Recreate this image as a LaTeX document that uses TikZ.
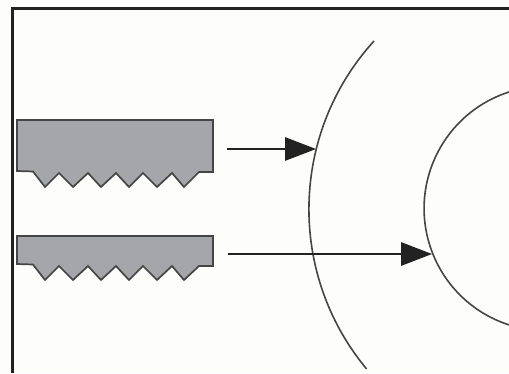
\documentclass[tikz,border=0pt]{standalone}
\usetikzlibrary{arrows.meta}
\definecolor{bgc}{HTML}{FDFDFC}
\definecolor{toothfill}{HTML}{A5A6A9}
\definecolor{inkline}{HTML}{454545}
\definecolor{arrowink}{HTML}{222222}
\tikzset{
  tooth/.style={draw=inkline,fill=toothfill,line width=1.7pt,line join=miter},
  frameline/.style={draw=arrowink,line width=2.3pt,line join=miter},
  arcline/.style={draw=inkline,line width=1.6pt},
  ray/.style={draw=arrowink,line width=1.4pt,-{Triangle[length=31pt,width=23.5pt]}}
}
\begin{document}
\begin{tikzpicture}[x=1pt,y=-1pt]
\path[use as bounding box,fill=bgc] (0,0) rectangle (509,373);
\draw[frameline] (12.5,373) -- (12.5,8.5) -- (509,8.5);
\draw[tooth] (17,120) -- (213,120) -- (213,172) -- (199,172) -- (184,187) -- (172,173) -- (157,187) -- (143,173) -- (129,187) -- (116,173) -- (101,187) -- (88,173) -- (73,187) -- (59,173) -- (45,187) -- (33,171.5) -- (17,171) -- cycle;
\draw[tooth] (17,236) -- (213,236) -- (213,266) -- (199,266) -- (184,280) -- (172,266) -- (157,280) -- (143,266) -- (129,280) -- (116,266) -- (101,280) -- (88,266) -- (73,280) -- (59,266) -- (45,280) -- (33,264.5) -- (17,264) -- cycle;
\coordinate (a1s) at (227,149);
\coordinate (a1e) at (316,149);
\coordinate (a2s) at (228,254);
\coordinate (a2e) at (432,254);
\draw[arcline] (374,41) arc[start angle=-137.7,end angle=-219.7,radius=250];
\draw[arcline] (509,92) arc[start angle=-107.8,end angle=-252.2,radius=122.3];
\draw[ray] (a1s) -- (a1e);
\draw[ray] (a2s) -- (a2e);
\end{tikzpicture}
\end{document}
